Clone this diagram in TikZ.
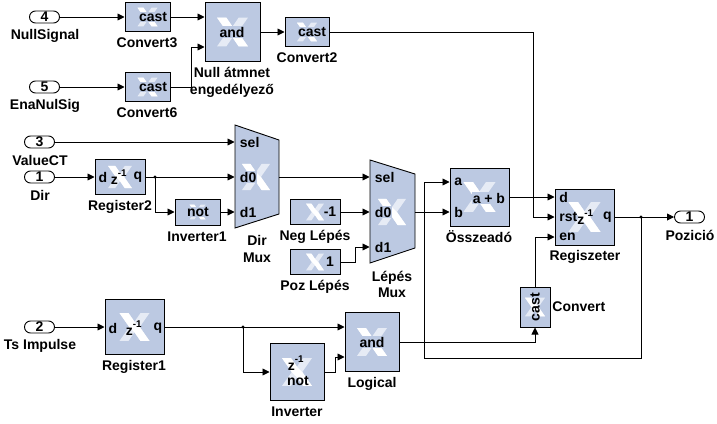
\documentclass[tikz,border=0pt]{standalone}
\usepackage{fontspec}
\setmainfont{Liberation Sans}
\usetikzlibrary{arrows.meta}
\definecolor{boxblue}{RGB}{188,201,226}
\definecolor{logopale}{RGB}{230,235,245}
\newcommand{\xlogo}[1]{%
\begin{scope}[shift={(path picture bounding box.center)},x=#1pt,y=#1pt]
\fill[logopale] (-1,-.93) -- (-.4,-.93) -- (0,-.35) -- (.4,-.93) -- (1,-.93) -- (.35,0) -- (1,.93) -- (.4,.93)
	-- (0,.35) -- (-.4,.93) -- (-1,.93) -- (-.35,0) -- cycle;
\fill[white] (1,-.93) -- (.4,-.93) -- (0,-.35) -- (-.35,0) -- (-1,.93) -- (-.4,.93) -- (0,.35) -- (.35,0) -- cycle;
\end{scope}}
\tikzset{
	xbox/.style={draw,fill=boxblue,inner sep=0pt,outer sep=0pt,path picture={\xlogo{#1}}},
	muxbody/.style={draw,fill=boxblue,line join=miter},
	port/.style={draw,fill=white,rounded corners=6pt,minimum width=30pt,minimum height=12pt,inner sep=0pt,outer sep=0pt},
	pinlbl/.style={inner sep=0.5pt,fill=boxblue},
	barelbl/.style={inner sep=0pt},
	lbl/.style={inner sep=0pt,align=center},
	wire/.style={line width=0.9pt,-{Triangle[length=7pt,width=7pt]},shorten >=0.5pt},
}
\begin{document}
\begin{tikzpicture}[x=1pt,y=-1pt,line width=0.9pt,font=\fontsize{14}{16.5}\selectfont\bfseries]
\useasboundingbox (0,0) rectangle (717,423);
%top row
\node[port] (port4) at (44.5,17) {4};
\node[lbl] (lblnull) at (45,36) {NullSignal};
\node[xbox=10,minimum width=45pt,minimum height=29pt] (convert3) at (147.5,17) {};
\node[pinlbl,anchor=east] (cast3) at (168,17) {cast};
\node[lbl] (lblconv3) at (147,43) {Convert3};
\node[xbox=15.5,minimum width=55pt,minimum height=59pt] (andnull) at (232.5,32) {};
\node[pinlbl] (andtxt) at (232,32) {and};
\node[lbl] (lblandnull) at (232,82.5) {Null átmnet\\engedélyező};
\node[xbox=10,minimum width=44pt,minimum height=29pt] (convert2) at (307,32) {};
\node[pinlbl,anchor=east] (cast2) at (327,32) {cast};
\node[lbl] (lblconv2) at (307,58) {Convert2};
\node[port] (port5) at (44.5,87) {5};
\node[lbl] (lblena) at (45,106) {EnaNulSig};
\node[xbox=10,minimum width=45pt,minimum height=29pt] (convert6) at (147.5,87) {};
\node[pinlbl,anchor=east] (cast6) at (168,87) {cast};
\node[lbl] (lblconv6) at (147,113) {Convert6};
%dir mux
\node[port] (port3) at (39.5,142) {3};
\node[lbl] (lblvalue) at (40,160) {ValueCT};
\node[port] (port1) at (39.5,177) {1};
\node[lbl] (lbldir) at (40,195) {Dir};
\node[xbox=12,minimum width=50pt,minimum height=35pt] (reg2) at (120,177) {};
\node[barelbl] (reg2d) at (103,177) {d};
\node[barelbl] (reg2z) at (119,177) {\raisebox{-3pt}{z}\textsuperscript{-1}};
\node[barelbl] (reg2q) at (138,177) {q};
\node[lbl] (lblreg2) at (120,207) {Register2};
\node[xbox=8,minimum width=45pt,minimum height=26pt] (inverter1) at (197.5,212) {};
\node[pinlbl] (not1) at (198,212) {not};
\node[lbl] (lblinv1) at (197,237) {Inverter1};
\draw[muxbody] (235,125) -- (279,140) -- (279,214) -- (235,228) -- cycle;
\node[inner sep=0pt,path picture={\xlogo{14}},minimum width=30pt,minimum height=30pt] (dirlogo) at (256,177) {};
\node[pinlbl,anchor=west] (dirsel) at (239,142) {sel};
\node[pinlbl,anchor=west] (dird0) at (239,177) {d0};
\node[pinlbl,anchor=west] (dird1) at (239,212) {d1};
\node[lbl] (lbldirmux) at (257,249) {Dir\\Mux};
\coordinate (dirselin) at (235,142);
\coordinate (dird0in) at (235,177);
\coordinate (dird1in) at (235,212);
\coordinate (dirout) at (279,177);
%step mux
\node[xbox=9,minimum width=50pt,minimum height=25pt] (neg) at (315,212) {};
\node[pinlbl,anchor=east,minimum width=17pt] (negval) at (339,212) {\hfill-1};
\node[lbl] (lblneg) at (315,237) {Neg Lépés};
\node[xbox=9,minimum width=50pt,minimum height=25pt] (poz) at (315,262) {};
\node[pinlbl,anchor=east,minimum width=17pt] (pozval) at (339,262) {\hfill 1};
\node[lbl] (lblpoz) at (315,287) {Poz Lépés};
\draw[muxbody] (370,160) -- (415,174) -- (415,248) -- (370,263) -- cycle;
\node[inner sep=0pt,path picture={\xlogo{14}},minimum width=30pt,minimum height=30pt] (lepeslogo) at (392,212) {};
\node[pinlbl,anchor=west] (lepessel) at (374,177) {sel};
\node[pinlbl,anchor=west] (lepesd0) at (374,212) {d0};
\node[pinlbl,anchor=west] (lepesd1) at (374,247) {d1};
\node[lbl] (lbllepes) at (392,284.5) {Lépés\\Mux};
\coordinate (lepesselin) at (370,177);
\coordinate (lepesd0in) at (370,212);
\coordinate (lepesd1in) at (370,247);
\coordinate (lepesout) at (415,212);
%adder and register
\node[xbox=16,minimum width=59pt,minimum height=58pt] (adder) at (479.5,197) {};
\node[barelbl,anchor=west] (addera) at (454,182) {a};
\node[barelbl,anchor=west] (adderb) at (454,212) {b};
\node[pinlbl,anchor=east] (addertxt) at (506,198) {a + b};
\node[lbl] (lbladder) at (479,237) {Összeadó};
\coordinate (addainp) at (450,182);
\coordinate (addbinp) at (450,212);
\node[xbox=16,minimum width=59pt,minimum height=56pt] (regout) at (584.5,217) {};
\node[barelbl,anchor=west] (regd) at (559,197) {d};
\node[barelbl,anchor=west] (regrst) at (559,217) {rst\raisebox{-3pt}{z}\textsuperscript{-1}};
\node[barelbl,anchor=west] (regen) at (559,237) {en};
\node[barelbl,anchor=east] (regq) at (612,217) {q};
\node[lbl] (lblregout) at (585,257) {Regiszeter};
\coordinate (regdin) at (555,197);
\coordinate (regrstin) at (555,217);
\coordinate (regenin) at (555,237);
\node[xbox=10,minimum width=30pt,minimum height=40pt] (convert) at (535,307) {};
\node[barelbl,rotate=90] (castv) at (535,307) {cast};
\node[lbl,anchor=west] (lblconv) at (552,307) {Convert};
\node[port] (portout) at (689.5,217) {1};
\node[lbl] (lblpoz2) at (690,235) {Pozició};
%bottom row
\node[port] (port2) at (39.5,327) {2};
\node[lbl] (lblts) at (40,346) {Ts Impulse};
\node[xbox=15,minimum width=59pt,minimum height=55pt] (reg1) at (134.5,327) {};
\node[barelbl] (reg1d) at (113,328) {d};
\node[barelbl] (reg1z) at (134,328) {\raisebox{-3pt}{z}\textsuperscript{-1}};
\node[barelbl] (reg1q) at (158,328) {q};
\node[lbl] (lblreg1) at (134,367) {Register1};
\node[xbox=15,minimum width=54pt,minimum height=57pt] (inverter) at (297,372) {};
\node[barelbl] (invz) at (296,363) {\raisebox{-3pt}{z}\textsuperscript{-1}};
\node[barelbl] (invnot) at (298,381) {not};
\node[lbl] (lblinv) at (297,412) {Inverter};
\node[xbox=15,minimum width=54pt,minimum height=59pt] (logical) at (372,342) {};
\node[pinlbl] (logtxt) at (372,342) {and};
\node[lbl] (lbllog) at (372,384) {Logical};
\coordinate (andA) at (205,17);
\coordinate (andB) at (205,47);
\coordinate (logA) at (345,327);
\coordinate (logB) at (345,357);
%wires
\draw[wire] (port4.east) -- (convert3.west);
\draw[wire] (convert3.east) -- (andA);
\draw[wire] (andnull.east) -- (convert2.west);
\draw[wire] (port5.east) -- (convert6.west);
\coordinate (bendand) at (191,47);
\draw[wire] (convert6.east) -| (bendand) -- (andB);
\coordinate (bendrst) at (533,217);
\draw[wire] (convert2.east) -| (bendrst) -- (regrstin);
\draw[wire] (port3.east) -- (dirselin);
\draw[wire] (port1.east) -- (reg2.west);
\draw[wire] (reg2.east) -- (dird0in);
\coordinate (dotreg2) at (155,177);
\fill (dotreg2) circle(1.6);
\draw[wire] (dotreg2) |- (inverter1.west);
\draw[wire] (inverter1.east) -- (dird1in);
\draw[wire] (dirout) -- (lepesselin);
\draw[wire] (neg.east) -- (lepesd0in);
\coordinate (bendpoz) at (355,247);
\draw[wire] (poz.east) -| (bendpoz) -- (lepesd1in);
\draw[wire] (lepesout) -- (addbinp);
\draw[wire] (adder.east |- regdin) -- (regdin);
\draw[wire] (regout.east) -- (portout.west);
\coordinate (dotout) at (641,217);
\fill (dotout) circle(1.6);
\coordinate (feedright) at (641,358);
\coordinate (feedleft) at (424,358);
\draw[wire] (dotout) -- (feedright) -- (feedleft) |- (addainp);
\draw[wire] (port2.east) -- (reg1.west);
\draw[wire] (reg1.east) -- (logA);
\coordinate (dotreg1) at (243,327);
\fill (dotreg1) circle(1.6);
\draw[wire] (dotreg1) |- (inverter.west);
\coordinate (bendinv) at (335,357);
\draw[wire] (inverter.east) -| (bendinv) -- (logB);
\draw[wire] (logical.east) -| (convert.south);
\draw[wire] (convert.north) |- (regenin);
\end{tikzpicture}
\end{document}
